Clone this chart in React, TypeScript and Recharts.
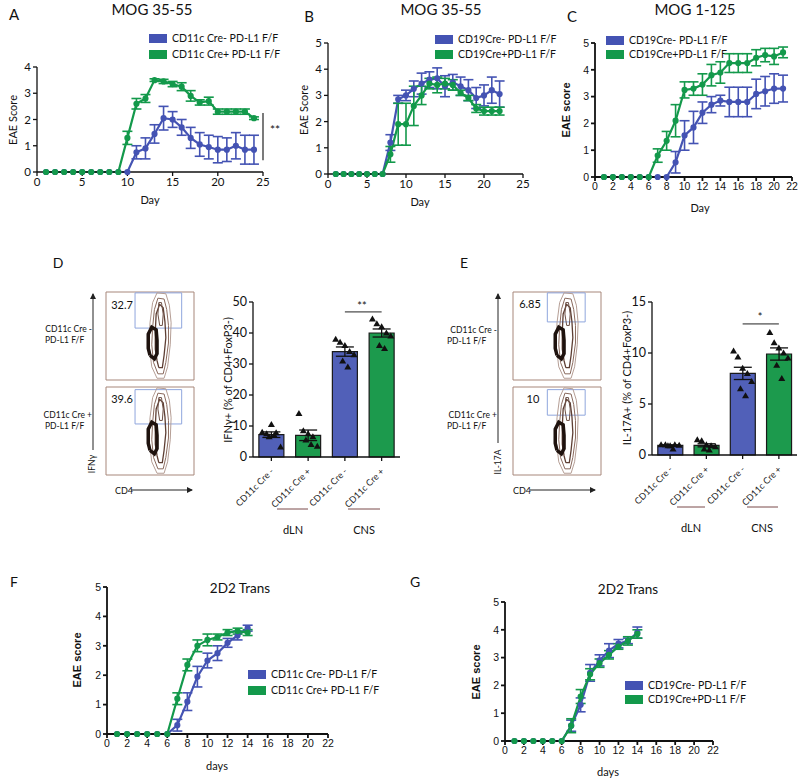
import React from 'react';
import {
  Bar,
  BarChart,
  Cell,
  ErrorBar,
  Line,
  LineChart,
  ReferenceArea,
  ReferenceLine,
  Scatter,
  ScatterChart,
  XAxis,
  YAxis
} from 'recharts';

const BLUE = '#4453b3';
const GREEN = '#13994b';
const BAR_BLUE = '#5160b8';
const BAR_GREEN = '#1c9a4d';
const SANS = 'Lato, "Open Sans", sans-serif';
const ARIAL = '"Liberation Sans", Arial, sans-serif';

// ---- A: MOG 35-55, CD11c ----
const daysA = [1, 2, 3, 4, 5, 6, 7, 8, 9, 10, 11, 12, 13, 14, 15, 16, 17, 18, 19, 20, 21, 22, 23, 24];
const aBlue = [0, 0, 0, 0, 0, 0, 0, 0, 0, 0, 0.75, 0.9, 1.45, 2.05, 2.0, 1.7, 1.3, 1.05, 0.95, 0.85, 0.85, 1.0, 0.85, 0.85];
const aBlueErr = [0, 0, 0, 0, 0, 0, 0, 0, 0, 0, 0.25, 0.4, 0.35, 0.45, 0.3, 0.3, 0.4, 0.45, 0.45, 0.5, 0.45, 0.5, 0.55, 0.55];
const aGreen = [0, 0, 0, 0, 0, 0, 0, 0, 0, 1.3, 2.6, 2.8, 3.5, 3.45, 3.35, 3.25, 2.9, 2.65, 2.7, 2.3, 2.3, 2.3, 2.3, 2.05];
const aGreenErr = [0, 0, 0, 0, 0, 0, 0, 0, 0, 0.25, 0.2, 0.15, 0.05, 0.08, 0.1, 0.15, 0.2, 0.1, 0.15, 0.1, 0.1, 0.1, 0.1, 0.05];

// ---- B: MOG 35-55, CD19 ----
const daysB = [1, 2, 3, 4, 5, 6, 7, 8, 9, 10, 11, 12, 13, 14, 15, 16, 17, 18, 19, 20, 21, 22];
const bBlue = [0, 0, 0, 0, 0, 0, 0, 1.2, 2.85, 3.0, 3.25, 3.45, 3.6, 3.65, 3.35, 3.5, 3.35, 3.2, 2.9, 3.0, 3.2, 3.05];
const bBlueErr = [0, 0, 0, 0, 0, 0, 0, 0.3, 0.15, 0.2, 0.3, 0.4, 0.3, 0.4, 0.4, 0.3, 0.35, 0.4, 0.4, 0.4, 0.5, 0.5];
const bGreen = [0, 0, 0, 0, 0, 0, 0, 0.75, 1.9, 1.9, 2.6, 3.0, 3.45, 3.4, 3.45, 3.4, 3.1, 2.9, 2.5, 2.4, 2.4, 2.4];
const bGreenErr = [0, 0, 0, 0, 0, 0, 0, 0.3, 0.8, 0.8, 0.75, 0.35, 0.2, 0.3, 0.2, 0.2, 0.1, 0.1, 0.15, 0.15, 0.15, 0.15];

// ---- C: MOG 1-125, CD19 ----
const daysC = [1, 2, 3, 4, 5, 6, 7, 8, 9, 10, 11, 12, 13, 14, 15, 16, 17, 18, 19, 20, 21];
const cBlue = [0, 0, 0, 0, 0, 0, 0, 0, 0.55, 1.55, 1.85, 2.4, 2.7, 2.85, 2.8, 2.8, 2.8, 3.1, 3.2, 3.3, 3.3];
const cBlueErr = [0, 0, 0, 0, 0, 0, 0, 0, 0.4, 0.55, 0.6, 0.4, 0.3, 0.2, 0.55, 0.55, 0.55, 0.55, 0.55, 0.55, 0.5];
const cGreen = [0, 0, 0, 0, 0, 0, 0.8, 1.35, 2.1, 3.25, 3.3, 3.45, 3.8, 3.9, 4.25, 4.25, 4.25, 4.45, 4.55, 4.5, 4.65];
const cGreenErr = [0, 0, 0, 0, 0, 0, 0.25, 0.35, 0.6, 0.3, 0.25, 0.4, 0.4, 0.4, 0.35, 0.35, 0.35, 0.3, 0.25, 0.3, 0.2];

// ---- F / G: 2D2 Trans ----
const daysFG = [1, 2, 3, 4, 5, 6, 7, 8, 9, 10, 11, 12, 13, 14];
const fBlue = [0, 0, 0, 0, 0, 0, 0.3, 1.1, 1.95, 2.5, 2.75, 3.1, 3.35, 3.6];
const fBlueErr = [0, 0, 0, 0, 0, 0, 0.2, 0.3, 0.35, 0.25, 0.25, 0.15, 0.15, 0.1];
const fGreen = [0, 0, 0, 0, 0, 0, 1.2, 2.35, 3.0, 3.2, 3.3, 3.45, 3.5, 3.45];
const fGreenErr = [0, 0, 0, 0, 0, 0, 0.2, 0.2, 0.2, 0.2, 0.1, 0.1, 0.1, 0.1];
const gBlue = [0, 0, 0, 0, 0, 0, 0.55, 1.3, 2.45, 2.9, 3.25, 3.5, 3.6, 3.9];
const gBlueErr = [0, 0, 0, 0, 0, 0, 0.2, 0.25, 0.3, 0.2, 0.25, 0.15, 0.1, 0.2];
const gGreen = [0, 0, 0, 0, 0, 0, 0.55, 1.6, 2.4, 2.8, 3.1, 3.4, 3.6, 3.85];
const gGreenErr = [0, 0, 0, 0, 0, 0, 0.25, 0.25, 0.2, 0.15, 0.15, 0.1, 0.15, 0.15];

// ---- D / E: bar charts ----
const barKeys = ['dLN-', 'dLN+', 'CNS-', 'CNS+'];
const barLabels = ['CD11c Cre -', 'CD11c Cre +', 'CD11c Cre -', 'CD11c Cre +'];
const dMean = [7.2, 7.0, 34, 40];
const dSem = [0.9, 1.7, 1.5, 1.3];
const eMean = [0.95, 0.95, 8.0, 9.9];
const eSem = [0.05, 0.15, 0.6, 0.6];
const jitter = [-0.25, -0.13, 0.0, 0.13, 0.25, -0.06, 0.08];
const dPoints = [
  [8, 7.5, 10.5, 7.8, 3.2, 6.5, 7.0],
  [14, 8.5, 7.5, 6.5, 3.5, 5.5, 4],
  [38, 37, 36, 34, 33, 31, 29],
  [44.5, 43, 42, 40, 39, 36, 35]
];
const ePoints = [
  [1.0, 1.0, 0.9, 1.0, 0.95, 0.9, 0.6],
  [1.5, 1.4, 1.0, 0.9, 0.8, 0.6, 0.5],
  [10.2, 9.6, 8.5, 8.0, 7.2, 6.5, 5.8],
  [12, 11, 10.5, 10.0, 9.5, 8.8, 7.5]
];

// ---- flow plot contours (0-100 box units) ----
const outerRing = [
  { x: 58, y: 2 }, { x: 66, y: 2 }, { x: 70, y: 15 }, { x: 73, y: 40 }, { x: 74, y: 65 }, { x: 72, y: 85 },
  { x: 68, y: 98 }, { x: 58, y: 99 }, { x: 53, y: 88 }, { x: 50, y: 65 }, { x: 49, y: 40 }, { x: 52, y: 15 }, { x: 58, y: 2 }
];
const ring2 = [
  { x: 59, y: 7 }, { x: 65, y: 7 }, { x: 68, y: 20 }, { x: 71, y: 42 }, { x: 71, y: 62 }, { x: 69, y: 80 },
  { x: 66, y: 92 }, { x: 59, y: 93 }, { x: 55, y: 80 }, { x: 53, y: 60 }, { x: 52, y: 40 }, { x: 54, y: 20 }, { x: 59, y: 7 }
];
const ring3 = [
  { x: 60, y: 14 }, { x: 64, y: 14 }, { x: 66, y: 28 }, { x: 68, y: 48 }, { x: 67, y: 66 }, { x: 65, y: 82 },
  { x: 61, y: 86 }, { x: 57, y: 75 }, { x: 56, y: 55 }, { x: 56, y: 35 }, { x: 58, y: 22 }, { x: 60, y: 14 }
];
const ring4 = [
  { x: 61, y: 62 }, { x: 64, y: 62 }, { x: 65, y: 75 }, { x: 63, y: 88 }, { x: 60, y: 88 }, { x: 59, y: 75 }, { x: 61, y: 62 }
];
const darkCore = [
  { x: 50, y: 28 }, { x: 55, y: 24 }, { x: 58, y: 30 }, { x: 58, y: 45 }, { x: 57, y: 57 },
  { x: 52, y: 60 }, { x: 48, y: 52 }, { x: 48, y: 36 }, { x: 50, y: 28 }
];

const rows = (days: number[], b: number[], be: number[], g: number[], ge: number[]) =>
  days.map((d, i) => ({ day: d, blue: b[i], blueErr: be[i], green: g[i], greenErr: ge[i] }));

const T = ({ x, y, children, size = 11, weight = 400, rotate = 0, font = SANS, align = 'center', color = '#111' }: any) => (
  <div
    style={{
      position: 'absolute',
      left: x,
      top: y,
      transform: `translate(${align === 'left' ? '0' : align === 'right' ? '-100%' : '-50%'}, -50%) rotate(${rotate}deg)`,
      fontSize: size,
      fontWeight: weight,
      fontFamily: font,
      whiteSpace: 'nowrap',
      lineHeight: 1,
      color
    }}
  >
    {children}
  </div>
);

const Legend = ({ x, y, labels, size = 10.5, gap = 15 }: any) => (
  <>
    {[BLUE, GREEN].map((c, i) => (
      <div key={i} style={{ position: 'absolute', left: x, top: y + i * gap, display: 'flex', alignItems: 'center' }}>
        <div style={{ width: 18, height: 9, background: c, marginRight: 5 }} />
        <span style={{ fontSize: size, fontFamily: SANS, color: '#111', whiteSpace: 'nowrap', lineHeight: 1 }}>{labels[i]}</span>
      </div>
    ))}
  </>
);

const EaeChart = ({ x0, x1, yTop, yBot, xMax, xTicks, yMax, yTicks, data, font = SANS, tickSize = 11.5, axisW = 1.3, children }: any) => {
  const ml = 40;
  const mt = 12;
  const mr = 22;
  const xh = 30;
  return (
    <div style={{ position: 'absolute', left: x0 - ml, top: yTop - mt }}>
      <LineChart width={x1 - x0 + ml + mr} height={yBot - yTop + mt + xh} data={data} margin={{ top: mt, right: mr, left: 0, bottom: 0 }}>
        <XAxis
          type="number"
          dataKey="day"
          domain={[0, xMax]}
          ticks={xTicks}
          interval={0}
          height={xh}
          tickSize={4}
          stroke="#111"
          strokeWidth={axisW}
          tick={{ fill: '#111', fontSize: tickSize, fontFamily: font }}
        />
        <YAxis
          type="number"
          domain={[0, yMax]}
          ticks={yTicks}
          interval={0}
          width={ml}
          tickSize={4}
          stroke="#111"
          strokeWidth={axisW}
          tick={{ fill: '#111', fontSize: tickSize, fontFamily: font }}
        />
        <Line dataKey="blue" stroke={BLUE} strokeWidth={2.2} dot={{ r: 2, fill: BLUE, stroke: BLUE }} isAnimationActive={false}>
          <ErrorBar dataKey="blueErr" direction="y" width={5} stroke={BLUE} strokeWidth={1.6} />
        </Line>
        <Line dataKey="green" stroke={GREEN} strokeWidth={2.2} dot={{ r: 2, fill: GREEN, stroke: GREEN }} isAnimationActive={false}>
          <ErrorBar dataKey="greenErr" direction="y" width={5} stroke={GREEN} strokeWidth={1.6} />
        </Line>
        {children}
      </LineChart>
    </div>
  );
};

const RotTick = ({ x, y, payload }: any) => {
  const i = barKeys.indexOf(payload.value);
  return (
    <text x={x + 3} y={y + 9} transform={`rotate(-45 ${x + 3} ${y + 9})`} textAnchor="end" fontSize={9} fontFamily={SANS} fill="#222">
      {barLabels[i]}
    </text>
  );
};

// small filled triangle marker
const Tri = (p: any) => {
  const { cx, cy } = p;
  if (cx == null || cy == null) return <g />;
  return <path d={`M${cx},${cy - 3.5} L${cx + 3.5},${cy + 2.5} L${cx - 3.5},${cy + 2.5} Z`} fill="#111" />;
};

const BarPanel = ({ x0, x1, yTop, yBot, yMax, yTicks, mean, sem, points, sig }: any) => {
  const ml = 28;
  const mt = 10;
  const mr = 2;
  const xh = 55;
  const w = x1 - x0 + ml + mr;
  const h = yBot - yTop + mt + xh;
  const bars = barKeys.map((k, i) => ({ key: k, mean: mean[i], sem: sem[i] }));
  const pts = points.flatMap((vals: number[], g: number) => vals.map((v, j) => ({ x: g + 1 + jitter[j], y: v })));
  return (
    <>
      <div style={{ position: 'absolute', left: x0 - ml, top: yTop - mt }}>
        <BarChart width={w} height={h} data={bars} margin={{ top: mt, right: mr, left: 0, bottom: 0 }} barCategoryGap="16%">
          <XAxis dataKey="key" height={xh} tick={<RotTick />} tickSize={4} stroke="#111" strokeWidth={1.3} interval={0} />
          <YAxis
            domain={[0, yMax]}
            ticks={yTicks}
            interval={0}
            width={ml}
            tickSize={4}
            stroke="#111"
            strokeWidth={1.3}
            tick={{ fill: '#111', fontSize: 12.5, fontFamily: SANS }}
          />
          <Bar dataKey="mean" stroke="#1a1a1a" strokeWidth={1.2} isAnimationActive={false}>
            {bars.map((b, i) => (
              <Cell key={b.key} fill={i % 2 === 0 ? BAR_BLUE : BAR_GREEN} />
            ))}
            <ErrorBar dataKey="sem" direction="y" width={9} stroke="#111" strokeWidth={1.3} />
          </Bar>
        </BarChart>
      </div>
      <div style={{ position: 'absolute', left: x0 - ml, top: yTop - mt }}>
        <ScatterChart width={w} height={h} margin={{ top: mt, right: mr, left: ml, bottom: xh }}>
          <XAxis type="number" dataKey="x" domain={[0.5, 4.5]} hide />
          <YAxis type="number" dataKey="y" domain={[0, yMax]} hide />
          <Scatter data={pts} shape={<Tri />} fill="#111" legendType="none" isAnimationActive={false} />
          <ReferenceLine segment={[{ x: 3, y: sig }, { x: 4, y: sig }]} stroke="#222" strokeWidth={1} ifOverflow="visible" />
        </ScatterChart>
      </div>
    </>
  );
};

const ring = (data: any[], stroke: string, width: number) => (
  <Scatter data={data} line={{ stroke, strokeWidth: width }} shape={() => <g />} isAnimationActive={false} />
);

const FlowPlot = ({ left, top, gate }: any) => (
  <div style={{ position: 'absolute', left, top }}>
    <ScatterChart width={90} height={90} margin={{ top: 1, right: 1, left: 1, bottom: 1 }}>
      <XAxis type="number" dataKey="x" domain={[0, 100]} hide />
      <YAxis type="number" dataKey="y" domain={[0, 100]} hide />
      <ReferenceArea x1={0} x2={100} y1={0} y2={100} stroke="#a7877a" strokeWidth={1} fill="none" fillOpacity={0} />
      {ring(outerRing, '#b59e95', 1)}
      {ring(ring2, '#8a6a5e', 1)}
      {ring(ring3, '#5e3f34', 1.3)}
      {ring(ring4, '#6e5147', 1)}
      {ring(darkCore, '#1e120e', 3.5)}
      <ReferenceArea x1={gate[0]} x2={gate[1]} y1={gate[2]} y2={gate[3]} stroke="#8fa6dd" strokeWidth={1} fill="none" fillOpacity={0} />
    </ScatterChart>
  </div>
);

const App = () => {
  return (
    <div style={{ position: 'absolute', left: 0, top: 0, width: 800, height: 778, background: '#fff', overflow: 'hidden' }}>
      {/* A */}
      <T x={14} y={14} size={15}>A</T>
      <T x={152} y={9} size={15}>MOG 35-55</T>
      <Legend x={149} y={33} labels={['CD11c Cre- PD-L1 F/F', 'CD11c Cre+ PD-L1 F/F']} gap={16} />
      <EaeChart x0={37} x1={263} yTop={67} yBot={172} xMax={25} xTicks={[0, 5, 10, 15, 20, 25]} yMax={4} yTicks={[0, 1, 2, 3, 4]} data={rows(daysA, aBlue, aBlueErr, aGreen, aGreenErr)}>
        <ReferenceLine segment={[{ x: 25, y: 0.45 }, { x: 25, y: 2.25 }]} stroke="#222" strokeWidth={1.2} ifOverflow="visible" />
      </EaeChart>
      <T x={275} y={130} size={12}>**</T>
      <T x={150} y={199} size={11}>Day</T>
      <T x={12} y={120} size={11} rotate={-90}>EAE Score</T>

      {/* B */}
      <T x={309} y={16} size={15}>B</T>
      <T x={441} y={9} size={15}>MOG 35-55</T>
      <Legend x={435} y={34} labels={['CD19Cre- PD-L1 F/F', 'CD19Cre+PD-L1 F/F']} gap={15} />
      <EaeChart x0={328} x1={523} yTop={43} yBot={174} xMax={25} xTicks={[0, 5, 10, 15, 20, 25]} yMax={5} yTicks={[0, 1, 2, 3, 4, 5]} data={rows(daysB, bBlue, bBlueErr, bGreen, bGreenErr)} />
      <T x={420} y={201} size={11}>Day</T>
      <T x={303} y={110} size={11} rotate={-90}>EAE Score</T>

      {/* C */}
      <T x={572} y={16} size={15}>C</T>
      <T x={695} y={9} size={15}>MOG 1-125</T>
      <Legend x={606} y={35} labels={['CD19Cre- PD-L1 F/F', 'CD19Cre+PD-L1 F/F']} gap={14} />
      <EaeChart x0={595} x1={792} yTop={43} yBot={177} xMax={22} xTicks={[0, 2, 4, 6, 8, 10, 12, 14, 16, 18, 20, 22]} yMax={5} yTicks={[0, 1, 2, 3, 4, 5]} data={rows(daysC, cBlue, cBlueErr, cGreen, cGreenErr)} font={ARIAL} tickSize={10.5} axisW={1.8} />
      <T x={700} y={207} size={11}>Day</T>
      <T x={566} y={110} size={11} weight={700} rotate={-90} font={ARIAL}>EAE score</T>

      {/* D */}
      <T x={58} y={263} size={14}>D</T>
      <T x={92} y={329} size={8.5} align="right">CD11c Cre -</T>
      <T x={45} y={340} size={8.5} align="left">PD-L1 F/F</T>
      <T x={92} y={415} size={8.5} align="right">CD11c Cre +</T>
      <T x={45} y={426} size={8.5} align="left">PD-L1 F/F</T>
      <FlowPlot left={105} top={291} gate={[33, 86, 59, 99]} />
      <FlowPlot left={105} top={386} gate={[33, 86, 58, 97]} />
      <T x={122} y={304} size={11}>32.7</T>
      <T x={122} y={398} size={11}>39.6</T>
      <T x={92} y={464} size={8.5} rotate={-90}>IFNγ</T>
      <T x={115} y={490} size={9} align="left">CD4</T>
      <BarPanel x0={253} x1={400} yTop={302} yBot={457} yMax={50} yTicks={[0, 10, 20, 30, 40, 50]} mean={dMean} sem={dSem} points={dPoints} sig={46.8} />
      <T x={362} y={305} size={11}>**</T>
      <T x={227} y={380} size={11} rotate={-90}>IFNγ+ (% of CD4+FoxP3-)</T>
      <T x={293} y={529} size={11}>dLN</T>
      <T x={364} y={529} size={11}>CNS</T>

      {/* E */}
      <T x={464} y={263} size={14}>E</T>
      <T x={497} y={330} size={8.5} align="right">CD11c Cre -</T>
      <T x={447} y={341} size={8.5} align="left">PD-L1 F/F</T>
      <T x={497} y={415} size={8.5} align="right">CD11c Cre +</T>
      <T x={447} y={426} size={8.5} align="left">PD-L1 F/F</T>
      <FlowPlot left={512} top={291} gate={[39, 82, 66, 99]} />
      <FlowPlot left={512} top={386} gate={[39, 82, 68, 97]} />
      <T x={530} y={303} size={11}>6.85</T>
      <T x={533} y={398} size={11}>10</T>
      <T x={498} y={462} size={8.5} rotate={-90}>IL-17A</T>
      <T x={513} y={490} size={9} align="left">CD4</T>
      <BarPanel x0={652} x1={797} yTop={302} yBot={455} yMax={15} yTicks={[0, 5, 10, 15]} mean={eMean} sem={eSem} points={ePoints} sig={12.85} />
      <T x={760} y={316} size={11}>*</T>
      <T x={626} y={378} size={11} rotate={-90}>IL-17A+ (% of CD4+FoxP3-)</T>
      <T x={691} y={527} size={11}>dLN</T>
      <T x={762} y={527} size={11}>CNS</T>

      {/* F */}
      <T x={14} y={582} size={14}>F</T>
      <T x={240} y={589} size={13.5}>2D2 Trans</T>
      <EaeChart x0={107} x1={328} yTop={587} yBot={734} xMax={22} xTicks={[0, 2, 4, 6, 8, 10, 12, 14, 16, 18, 20, 22]} yMax={5} yTicks={[0, 1, 2, 3, 4, 5]} data={rows(daysFG, fBlue, fBlueErr, fGreen, fGreenErr)} font={ARIAL} tickSize={10.5} axisW={1.8} />
      <Legend x={248} y={669} labels={['CD11c Cre- PD-L1 F/F', 'CD11c Cre+ PD-L1 F/F']} gap={16} />
      <T x={217} y={765} size={11}>days</T>
      <T x={77} y={660} size={11} weight={700} rotate={-90} font={ARIAL}>EAE score</T>

      {/* G */}
      <T x={415} y={582} size={14}>G</T>
      <T x={628} y={590} size={13.5}>2D2 Trans</T>
      <EaeChart x0={505} x1={713} yTop={602} yBot={741} xMax={22} xTicks={[0, 2, 4, 6, 8, 10, 12, 14, 16, 18, 20, 22]} yMax={5} yTicks={[0, 1, 2, 3, 4, 5]} data={rows(daysFG, gBlue, gBlueErr, gGreen, gGreenErr)} font={ARIAL} tickSize={10.5} axisW={1.8} />
      <Legend x={625} y={680} labels={['CD19Cre- PD-L1 F/F', 'CD19Cre+PD-L1 F/F']} gap={14} />
      <T x={608} y={771} size={11}>days</T>
      <T x={476} y={672} size={11} weight={700} rotate={-90} font={ARIAL}>EAE score</T>

      {/* arrows and group lines */}
      <svg width={800} height={778} style={{ position: 'absolute', left: 0, top: 0, pointerEvents: 'none' }}>
        <defs>
          <marker id="ah" markerWidth="6" markerHeight="6" refX="5" refY="3" orient="auto">
            <path d="M0,0 L6,3 L0,6 z" fill="#222" />
          </marker>
        </defs>
        <line x1={93} y1={450} x2={93} y2={294} stroke="#222" strokeWidth={1} markerEnd="url(#ah)" />
        <line x1={131} y1={490} x2={192} y2={490} stroke="#222" strokeWidth={1} markerEnd="url(#ah)" />
        <line x1={498} y1={443} x2={498} y2={294} stroke="#222" strokeWidth={1} markerEnd="url(#ah)" />
        <line x1={530} y1={490} x2={595} y2={490} stroke="#222" strokeWidth={1} markerEnd="url(#ah)" />
        <line x1={277} y1={509} x2={308} y2={509} stroke="#7a4a4a" strokeWidth={1} />
        <line x1={348} y1={509} x2={380} y2={509} stroke="#7a4a4a" strokeWidth={1} />
        <line x1={677} y1={507} x2={705} y2={507} stroke="#7a4a4a" strokeWidth={1} />
        <line x1={747} y1={507} x2={778} y2={507} stroke="#7a4a4a" strokeWidth={1} />
      </svg>
    </div>
  );
};

export default App;
